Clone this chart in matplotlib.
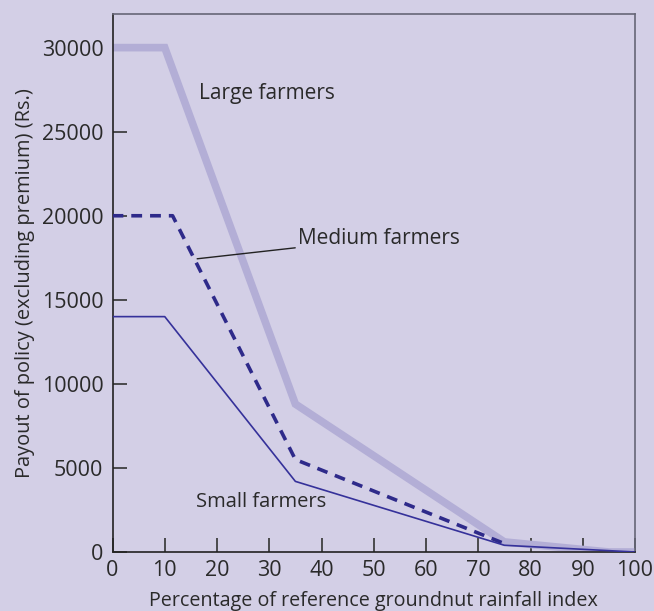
import matplotlib
matplotlib.use("Agg")
import matplotlib.pyplot as plt

# Payout curves
large_x = [0, 10, 35, 75, 95, 100]
large_y = [30000, 30000, 8800, 600, 0, 0]
medium_x = [0, 11.5, 35, 75]
medium_y = [20000, 20000, 5500, 500]
small_x = [0, 10, 35, 75, 100]
small_y = [14000, 14000, 4200, 400, 0]

x_ticks = [0, 10, 20, 30, 40, 50, 60, 70, 80, 90, 100]
y_ticks = [0, 5000, 10000, 15000, 20000, 25000, 30000]

BG = "#d3cfe6"
plt.rcParams["font.family"] = ["Open Sans", "DejaVu Sans"]

fig = plt.figure(figsize=(6.54, 6.11), dpi=100, facecolor=BG)
ax = fig.add_axes([112.5 / 654, 1 - 552 / 611, (635 - 112.5) / 654, (552 - 14) / 611])
ax.set_facecolor(BG)

ax.plot(large_x, large_y, color="#b3aed6", lw=5.5, solid_joinstyle="miter", zorder=2)
ax.plot(medium_x, medium_y, color="#2e2a8a", lw=2.6, ls=(0, (3, 2.2)), zorder=3)
ax.plot(small_x, small_y, color="#35319a", lw=1.2, zorder=3)

ax.set_xlim(0, 100)
ax.set_ylim(0, 32000)
ax.set_xticks(x_ticks)
ax.set_yticks(y_ticks)
ax.tick_params(direction="in", length=10, width=1.2, color="#333333",
               labelsize=15.5, labelcolor="#2a2a2a")
ax.tick_params(axis="x", pad=6)
ax.tick_params(axis="y", pad=6.5)
for side in ["left", "bottom"]:
    ax.spines[side].set_color("#222222")
    ax.spines[side].set_linewidth(1.2)
for side in ["top", "right"]:
    ax.spines[side].set_color("#666677")
    ax.spines[side].set_linewidth(1.2)

ax.set_xlabel("Percentage of reference groundnut rainfall index",
              fontsize=14.2, color="#2a2a2a", labelpad=7)
ax.set_ylabel("Payout of policy (excluding premium) (Rs.)",
              fontsize=14.4, color="#2a2a2a", labelpad=5)

ax.text(16.5, 27300, "Large farmers", fontsize=15, color="#2a2a2a", va="center")
ax.text(16, 2950, "Small farmers", fontsize=14.5, color="#2a2a2a", va="center")
ax.annotate("Medium farmers", xy=(16.2, 17440), xytext=(35.5, 18650),
            fontsize=15, color="#2a2a2a", va="center",
            arrowprops=dict(arrowstyle="-", color="#222222", lw=1,
                            shrinkA=0, shrinkB=0))

fig.savefig("out.png", dpi=100, facecolor=BG)
